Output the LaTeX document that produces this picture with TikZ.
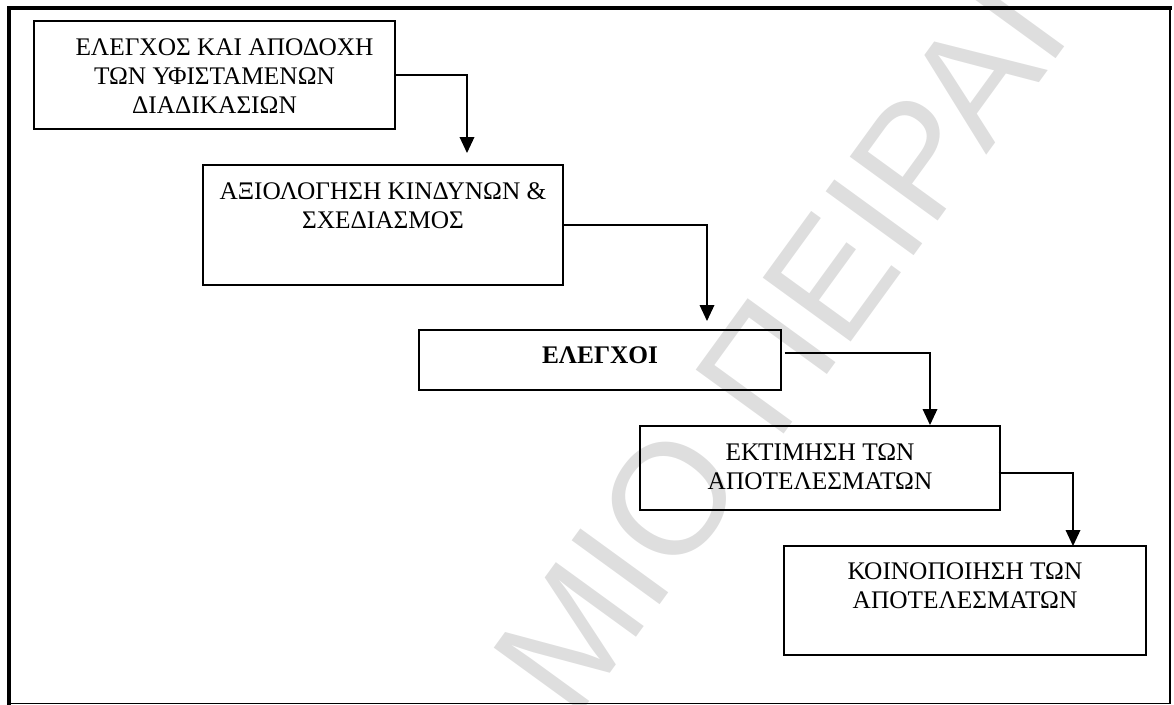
\documentclass[tikz,border=0pt]{standalone}
\usepackage{fontspec}
\setmainfont{Liberation Serif}
\newfontfamily\wmfont{Liberation Sans}
\usetikzlibrary{arrows.meta}
\definecolor{wmgray}{RGB}{222,222,222}

\begin{document}
\begin{tikzpicture}[x=0.75pt,y=-0.75pt,
  box/.style={draw, line width=1.1pt, inner sep=0pt, rectangle},
  lbl/.style={anchor=north, align=center, inner sep=0pt,
    font=\fontsize{19pt}{21.75pt}\selectfont},
  conn/.style={line width=1pt, -{Triangle[length=12pt,width=11pt]}},
  wm/.style={rotate=54, inner sep=0pt, text=wmgray,
    font=\wmfont\fontsize{118.5pt}{120pt}\selectfont}]

\useasboundingbox (0,0) rectangle (1174,704);

% background watermark (only the letters that fall on the page)
\begin{scope}
  \clip (0,0) rectangle (1174,704);
  \node[wm, anchor=base east] (wmA) at (750,481) {ΜΙΟ};
  \node[wm, anchor=base west] (wmB) at (776,445) {ΠΕΙΡΑΙ};
\end{scope}

% process boxes
\node[box, minimum width=270.75pt, minimum height=81pt]   (b1) at (214.5,75) {};
\node[box, minimum width=270pt,    minimum height=90pt]   (b2) at (383,225) {};
\node[box, minimum width=271.5pt,  minimum height=45pt]   (b3) at (600,360) {};
\node[box, minimum width=270pt,    minimum height=63pt]   (b4) at (820,468) {};
\node[box, minimum width=271.5pt,  minimum height=81.75pt] (b5) at (965,600.5) {};

% box texts
\node[lbl] (l1) at ([yshift=-13.5pt]b1.north)
  {\hspace*{15pt}ΕΛΕΓΧΟΣ ΚΑΙ ΑΠΟΔΟΧΗ\\ΤΩΝ ΥΦΙΣΤΑΜΕΝΩΝ\\ΔΙΑΔΙΚΑΣΙΩΝ};
\node[lbl] (l2) at ([yshift=-13.5pt]b2.north)
  {ΑΞΙΟΛΟΓΗΣΗ ΚΙΝΔΥΝΩΝ \&\\ΣΧΕΔΙΑΣΜΟΣ};
\node[lbl] (l3) at ([yshift=-13pt]b3.north) {\textbf{ΕΛΕΓΧΟΙ}};
\node[lbl] (l4) at ([yshift=-13.5pt]b4.north)
  {ΕΚΤΙΜΗΣΗ ΤΩΝ\\ΑΠΟΤΕΛΕΣΜΑΤΩΝ};
\node[lbl] (l5) at ([yshift=-13pt]b5.north)
  {ΚΟΙΝΟΠΟΙΗΣΗ ΤΩΝ\\ΑΠΟΤΕΛΕΣΜΑΤΩΝ};

% arrow tips stop just above the next box
\coordinate (t1) at (467,153);
\coordinate (t2) at (707,321);
\coordinate (t3) at (930,425);
\coordinate (t4) at (1073,546);

% connectors
\draw[conn] (b1.east) -| (t1);
\draw[conn] (b2.east) -| (t2);
\draw[conn] (b3.east) ++(3,-7) -| (t3);
\draw[conn] (b4.east) ++(-2,5) -| (t4);

% page frame
\draw[line width=3pt, line cap=rect] (9,703) -- (9,8) -- (1170,8);
\draw[line width=1.9pt] (1170,7) -- (1170,703.5);
\draw[line width=0.8pt] (9,703.3) -- (1171,703.3);
\end{tikzpicture}
\end{document}
